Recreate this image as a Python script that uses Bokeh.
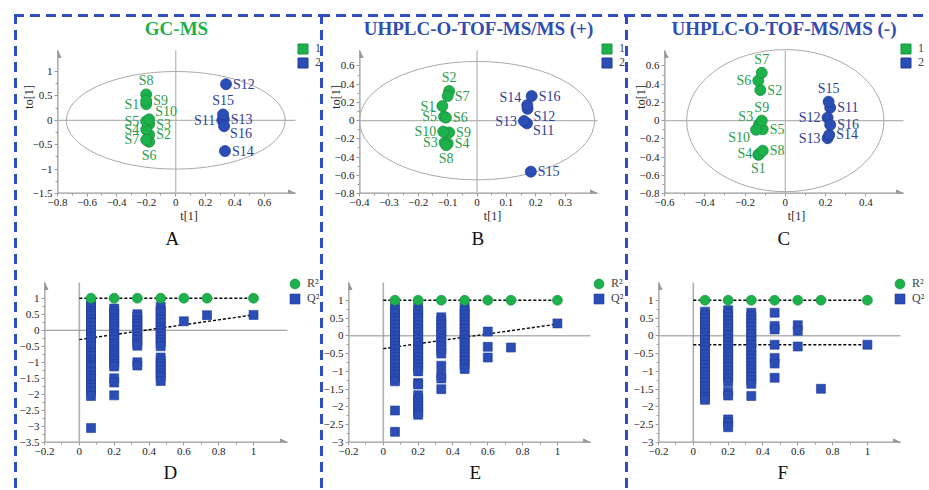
from bokeh.plotting import figure
from bokeh.models import (Arrow, NormalHead, FixedTicker, CustomJSTickFormatter,
                          Legend, LegendItem, Label, Range1d, ColumnDataSource, Title)
from bokeh.layouts import row, column
from bokeh.embed import file_html
from bokeh.resources import INLINE
from bokeh.core.properties import value

# ---------------- data ----------------
samples = ["S1", "S2", "S3", "S4", "S5", "S6", "S7", "S8", "S9", "S10",
           "S11", "S12", "S13", "S14", "S15", "S16"]
groups = [1, 1, 1, 1, 1, 1, 1, 1, 1, 1, 2, 2, 2, 2, 2, 2]

# A: GC-MS OPLS-DA scores
gc_t = [-0.20, -0.18, -0.18, -0.20, -0.20, -0.18, -0.20, -0.20, -0.20, -0.18,
        0.315, 0.34, 0.325, 0.333, 0.32, 0.327]
gc_to = [0.33, -0.30, -0.08, -0.19, -0.02, -0.44, -0.40, 0.53, 0.40, 0.02,
         0.00, 0.74, 0.02, -0.63, 0.12, -0.12]
gc_lab = ["l", "r", "r", "l", "l", "b", "l", "a", "r", "ar",
          "l", "r", "r", "r", "a", "br"]
gc_ellipse = [0.74, 1.0]

# B: UHPLC (+)
pos_t = [-0.118, -0.095, -0.11, -0.10, -0.112, -0.106, -0.10, -0.105, -0.095, -0.115,
         0.17, 0.172, 0.16, 0.171, 0.183, 0.186]
pos_to = [0.16, 0.325, -0.24, -0.25, 0.044, 0.033, 0.27, -0.27, -0.13, -0.12,
          -0.03, 0.13, -0.005, 0.17, -0.56, 0.27]
pos_lab = ["l", "a", "l", "r", "l", "r", "r", "b", "r", "l",
           "br", "br", "l", "al", "r", "r"]
pos_ellipse = [0.40, 0.65]

# C: UHPLC (-)
neg_t = [-0.134, -0.124, -0.13, -0.129, -0.112, -0.134, -0.117, -0.112, -0.117, -0.145,
         0.223, 0.21, 0.21, 0.218, 0.215, 0.223]
neg_to = [-0.375, 0.336, -0.04, -0.365, -0.095, 0.44, 0.525, -0.33, 0.0, -0.10,
          0.142, 0.033, -0.193, -0.157, 0.208, -0.047]
neg_lab = ["b", "r", "al", "l", "r", "l", "a", "r", "a", "bl",
           "r", "l", "l", "r", "a", "r"]
neg_ellipse = [0.49, 0.78]

# permutation tests (x = correlation coefficient)
perm_x = [0.067, 0.2, 0.333, 0.467, 0.6, 0.733, 1.0]
line_x = [0.0, 1.0]

gc_r2 = [1.0, 1.0, 1.0, 1.0, 1.0, 1.0, 1.0]
gc_q2 = [
    [0.83, 0.72, 0.6, 0.52, 0.45, 0.33, 0.25, 0.12, 0.0, -0.1, -0.2, -0.28, -0.4, -0.5,
     -0.62, -0.7, -0.8, -0.92, -1.0, -1.1, -1.15, -1.3, -1.42, -1.5, -1.62, -1.7, -1.8,
     -1.92, -2.05, -3.05],
    [0.68, 0.6, 0.5, 0.38, 0.3, 0.2, 0.1, 0.0, -0.12, -0.2, -0.3, -0.42, -0.5, -0.6,
     -0.7, -0.78, -0.88, -0.95, -1.05, -1.13, -1.5, -1.63, -2.03],
    [0.5, 0.42, 0.3, 0.2, 0.12, 0.0, -0.1, -0.2, -0.3, -0.4, -0.48, -1.0, -1.1],
    [0.73, 0.62, 0.55, 0.42, 0.33, 0.22, 0.1, 0.0, -0.1, -0.2, -0.3, -0.4, -0.5,
     -0.85, -0.95, -1.05, -1.15, -1.25, -1.35, -1.45, -1.58],
    [0.28],
    [0.47],
    [0.48],
]
gc_r2_line = [1.0, 1.0]
gc_q2_line = [-0.29, 0.48]

pos_r2 = [1.0, 1.0, 1.0, 1.0, 1.0, 1.0, 1.0]
pos_q2 = [
    [0.82, 0.72, 0.62, 0.5, 0.42, 0.3, 0.2, 0.1, 0.0, -0.1, -0.2, -0.28, -0.38, -0.5,
     -0.6, -0.7, -0.8, -0.9, -1.0, -1.1, -1.2, -1.28, -2.1, -2.7],
    [0.8, 0.7, 0.6, 0.5, 0.4, 0.3, 0.2, 0.1, 0.0, -0.1, -0.2, -0.3, -0.4, -0.5, -0.6,
     -0.7, -0.8, -0.9, -1.0, -1.33, -1.37, -1.67, -1.77, -1.87, -1.97, -2.07, -2.15, -2.22],
    [0.52, 0.42, 0.32, 0.22, 0.12, 0.02, -0.08, -0.18, -0.3, -0.4, -0.5, -0.84, -1.1,
     -1.2, -1.5],
    [0.8, 0.7, 0.6, 0.5, 0.4, 0.3, 0.2, 0.1, 0.0, -0.1, -0.2, -0.3, -0.4, -0.5, -0.6,
     -0.7, -0.8, -0.93],
    [0.12, -0.31, -0.61],
    [-0.33],
    [0.35],
]
pos_r2_line = [1.0, 1.0]
pos_q2_line = [-0.36, 0.33]

neg_r2 = [1.0, 1.0, 1.0, 1.0, 1.0, 1.0, 1.0]
neg_q2 = [
    [0.68, 0.58, 0.48, 0.38, 0.28, 0.18, 0.08, -0.02, -0.12, -0.22, -0.32, -0.42, -0.52,
     -0.62, -0.72, -0.82, -0.92, -1.02, -1.12, -1.22, -1.32, -1.42, -1.52, -1.62, -1.72,
     -1.8],
    [0.72, 0.62, 0.52, 0.42, 0.32, 0.22, 0.12, 0.02, -0.08, -0.18, -0.28, -0.38, -0.48,
     -0.58, -0.68, -0.78, -0.88, -0.98, -1.08, -1.18, -1.3, -1.58, -1.68, -2.35, -2.45,
     -2.57],
    [0.65, 0.55, 0.45, 0.35, 0.25, 0.15, 0.05, -0.05, -0.15, -0.25, -0.35, -0.45, -0.55,
     -0.65, -0.75, -0.85, -0.95, -1.05, -1.15, -1.25, -1.35, -1.69],
    [0.65, 0.28, 0.18, -0.25, -0.62, -0.78, -1.18],
    [0.3, 0.14, -0.3],
    [-1.49],
    [-0.25],
]
neg_r2_line = [1.0, 1.0]
neg_q2_line = [-0.25, -0.25]

# axis extents (start, arrow tip)
a_xaxis, a_yaxis = (-0.8, 0.81), (-1.5, 1.43)
b_xaxis, b_yaxis = (-0.4, 0.41), (-0.8, 0.77)
c_xaxis, c_yaxis = (-0.6, 0.587), (-0.8, 0.77)
d_xaxis, d_yaxis = (-0.2, 1.195), (-3.5, 1.49)
e_xaxis, e_yaxis = (-0.2, 1.19), (-3.0, 1.5)
f_xaxis, f_yaxis = (-0.2, 1.19), (-3.0, 1.5)

# tick labels
a_xticks = [-0.8, -0.6, -0.4, -0.2, 0, 0.2, 0.4, 0.6]
a_yticks = [-1.5, -1, -0.5, 0, 0.5, 1]
b_xticks = [-0.4, -0.3, -0.2, -0.1, 0, 0.1, 0.2, 0.3]
b_yticks = [-0.8, -0.6, -0.4, -0.2, 0, 0.2, 0.4, 0.6]
c_xticks = [-0.6, -0.4, -0.2, 0, 0.2, 0.4]
c_yticks = [-0.8, -0.6, -0.4, -0.2, 0, 0.2, 0.4, 0.6]
perm_xticks = [-0.2, 0, 0.2, 0.4, 0.6, 0.8, 1]
d_yticks = [-3.5, -3, -2.5, -2, -1.5, -1, -0.5, 0, 0.5, 1]
ef_yticks = [-3, -2.5, -2, -1.5, -1, -0.5, 0, 0.5, 1]

# ---------------- style ----------------
FONT = "Liberation Serif"
GREEN = "#1db14b"
GREEN_EDGE = "#16923c"
GREEN_TXT = "#2b9d49"
BLUE = "#2b4db6"
BLUE_EDGE = "#203b98"
BLUE_TXT = "#2c3e96"
AXIS = "#9a9a9a"
ZERO = "#b5b5b5"
BORDER = "#2f4fc0"
TITLE_BLUE = "#2f4db3"
NAN = float("nan")

FMT = ("const v = Math.round(tick * 1000) / 1000;"
       "return v < 0 ? '\\u2212' + String(Math.abs(v)) : String(v);")

LABEL_POS = {
    "r": (7, 0, "left", "middle"),
    "l": (-7, 0, "right", "middle"),
    "a": (0, -6, "center", "bottom"),
    "b": (0, 6, "center", "top"),
    "ar": (6, 0, "left", "bottom"),
    "br": (6, 0, "left", "top"),
    "al": (-6, 0, "right", "bottom"),
    "bl": (-6, 0, "right", "top"),
}


def minor(ticks):
    return [(a + b) / 2 for a, b in zip(ticks[:-1], ticks[1:])]


def make_base(xa, ya, xt, yt, aw, ah, er, et, left, bottom, ylab_standoff):
    # frame extends beyond the drawn axes (right / top) so that legends and
    # titles drawn inside the frame are not clipped; scale is kept identical.
    xr = (xa[0], xa[0] + (aw + er) / aw * (xa[1] - xa[0]))
    yr = (ya[0], ya[0] + (ah + et) / ah * (ya[1] - ya[0]))
    p = figure(frame_width=aw + er, frame_height=ah + et,
               x_range=Range1d(*xr), y_range=Range1d(*yr),
               min_border_left=left, min_border_right=0, min_border_top=0,
               min_border_bottom=bottom, output_backend="svg", toolbar_location=None)
    p.grid.visible = False
    p.outline_line_color = None
    # transparent canvas: the dashed panel borders are painted behind it
    p.background_fill_color = None
    p.border_fill_color = None
    for ax in (p.xaxis[0], p.yaxis[0]):
        ax.axis_line_color = None
        ax.major_tick_line_color = AXIS
        ax.minor_tick_line_color = AXIS
        ax.major_tick_in = 0
        ax.major_tick_out = 3
        ax.minor_tick_in = 0
        ax.minor_tick_out = 2
        ax.major_label_text_font = FONT
        ax.major_label_text_font_size = "11px"
        ax.major_label_text_color = "#222222"
        ax.major_label_standoff = 2
        ax.axis_label_text_font = FONT
        ax.axis_label_text_font_size = "12px"
        ax.axis_label_text_font_style = "normal"
        ax.axis_label_text_color = "#222222"
        ax.formatter = CustomJSTickFormatter(code=FMT)
    p.xaxis[0].ticker = FixedTicker(ticks=xt, minor_ticks=minor(xt))
    p.yaxis[0].ticker = FixedTicker(ticks=yt, minor_ticks=minor(yt))
    p.xaxis.axis_label_standoff = 0
    p.yaxis.axis_label_standoff = ylab_standoff
    # axis lines with arrows, ending at the arrow tips
    p.line([xa[0], xa[1]], [ya[0], ya[0]], line_color=AXIS, line_width=2)
    p.line([xa[0], xa[0]], [ya[0], ya[1]], line_color=AXIS, line_width=2)
    for xs, ys, xe, ye in ((xa[0], ya[0], xa[1], ya[0]), (xa[0], ya[0], xa[0], ya[1])):
        p.add_layout(Arrow(end=NormalHead(size=7, fill_color=AXIS, line_color=AXIS),
                           x_start=xs, y_start=ys, x_end=xe, y_end=ye,
                           line_color=AXIS, line_width=1))
    return p


def add_letter(p, text, offset, standoff):
    p.add_layout(Title(text=text, align="left", offset=offset, standoff=standoff,
                       text_font=FONT, text_font_size="19px", text_font_style="normal",
                       text_color="#111111"), "below")


def add_legend_item(p, label, renderer, loc, standoff):
    p.add_layout(Legend(items=[LegendItem(label=label, renderers=[renderer])],
                        location=loc, glyph_width=25, glyph_height=25, label_height=25,
                        spacing=0, padding=0, margin=0, label_standoff=standoff,
                        label_text_font=FONT, label_text_font_size="12px",
                        border_line_alpha=0, background_fill_alpha=0))


def score_fig(title, tcolor, t, to, lab, ell, xa, ya, xt, yt, aw, left, er, ylab_standoff,
              leg_x, let, let_off):
    p = make_base(xa, ya, xt, yt, aw, 143, er, 50, left, 64, ylab_standoff)
    p.xaxis.axis_label = "t[1]"
    p.yaxis.axis_label = "to[1]"
    # zero lines
    p.line([xa[0], xa[1]], [0, 0], line_color=ZERO, line_width=1.2)
    p.line([0, 0], [ya[0], ya[1]], line_color=ZERO, line_width=1.2)
    p.ellipse(x=[0], y=[0], width=[2 * ell[0]], height=[2 * ell[1]],
              fill_color=None, line_color="#a9a9a9", line_width=1)
    src = ColumnDataSource(dict(
        t=t, to=to, name=samples,
        fill=[GREEN if g == 1 else BLUE for g in groups],
        edge=[GREEN_EDGE if g == 1 else BLUE_EDGE for g in groups],
        tcol=[GREEN_TXT if g == 1 else BLUE_TXT for g in groups],
        xo=[LABEL_POS[c][0] for c in lab], yo=[LABEL_POS[c][1] for c in lab],
        al=[LABEL_POS[c][2] for c in lab], bl=[LABEL_POS[c][3] for c in lab],
    ))
    p.scatter("t", "to", source=src, marker="circle", size=11,
              fill_color="fill", line_color="edge", line_width=0.8)
    p.text("t", "to", text="name", source=src, x_offset="xo", y_offset="yo",
           text_align="al", text_baseline="bl", text_color="tcol",
           text_font=value(FONT), text_font_size=value("14px"))
    # legend-only renderers (no visible point)
    r1 = p.scatter(x=[NAN], y=[NAN], marker="square", fill_color=GREEN, line_color=GREEN_EDGE)
    r2 = p.scatter(x=[NAN], y=[NAN], marker="square", fill_color=BLUE, line_color=BLUE_EDGE)
    add_legend_item(p, "1", r1, (leg_x, 132), -5)
    add_legend_item(p, "2", r2, (leg_x, 118), -5)
    # panel title drawn inside the (extended) frame
    p.add_layout(Label(x=(xa[0] + xa[1]) / 2, y=p.y_range.end, y_offset=-28, text=title,
                       text_align="center", text_baseline="middle", text_font=FONT,
                       text_font_size="19px", text_font_style="bold", text_color=tcolor))
    add_letter(p, let, let_off, 0)
    return p


def perm_fig(r2, q2, r2_line, q2_line, xa, ya, yt, aw, left, er, leg_x, let, let_off):
    p = make_base(xa, ya, perm_xticks, yt, aw, 160, er, 25, left, 47, 0)
    p.line([0, 0], [ya[0], ya[1]], line_color="#b0b0b0", line_width=1.6)
    p.line([xa[0], xa[1]], [0, 0], line_color="#8c8c8c", line_width=1)
    p.line(line_x, r2_line, line_color="black", line_width=1.4, line_dash="3 2")
    p.line(line_x, q2_line, line_color="black", line_width=1.4, line_dash="3 2")
    qx, qy = [], []
    for xv, vals in zip(perm_x, q2):
        qx += [xv] * len(vals)
        qy += vals
    rq = p.scatter(qx, qy, marker="square", size=9, fill_color=BLUE,
                   line_color=BLUE_EDGE, line_width=0.6)
    rr = p.scatter(perm_x, r2, marker="circle", size=10, fill_color=GREEN,
                   line_color=GREEN_EDGE, line_width=0.6)
    add_legend_item(p, "R\u00b2", rr, (leg_x, 146), -7)
    add_legend_item(p, "Q\u00b2", rq, (leg_x, 131), -7)
    add_letter(p, let, let_off, 5)
    return p


# page origin is (0, 0): panel columns span x 0-320, 320-625, 625-928
pa = score_fig("GC-MS", GREEN, gc_t, gc_to, gc_lab, gc_ellipse, a_xaxis, a_yaxis,
               a_xticks, a_yticks, 238, 57, 25, -6, 233, "A", 108)
pb = score_fig("UHPLC-O-TOF-MS/MS (+)", TITLE_BLUE, pos_t, pos_to, pos_lab, pos_ellipse,
               b_xaxis, b_yaxis, b_xticks, b_yticks, 238, 39, 28, -11, 235, "B", 112)
pc = score_fig("UHPLC-O-TOF-MS/MS (-)", TITLE_BLUE, neg_t, neg_to, neg_lab, neg_ellipse,
               c_xaxis, c_yaxis, c_xticks, c_yticks, 239, 39, 25, -11, 229, "C", 113)

pd = perm_fig(gc_r2, gc_q2, gc_r2_line, gc_q2_line, d_xaxis, d_yaxis, d_yticks,
              243, 44, 33, 238, "D", 119)
pe = perm_fig(pos_r2, pos_q2, pos_r2_line, pos_q2_line, e_xaxis, e_yaxis, ef_yticks,
              242, 28, 35, 238, "E", 121)
pf = perm_fig(neg_r2, neg_q2, neg_r2_line, neg_q2_line, f_xaxis, f_yaxis, ef_yticks,
              242, 33, 28, 229, "F", 119)


def dashed_box(left_px, top_px):
    dash_v = f"repeating-linear-gradient(to bottom, {BORDER} 0px, {BORDER} 10px, transparent 10px, transparent 16px)"
    dash_h = f"repeating-linear-gradient(to right, {BORDER} 0px, {BORDER} 10px, transparent 10px, transparent 16px)"
    return {
        "background-color": "white",
        "background-image": f"{dash_v}, {dash_h}",
        "background-position": f"{left_px}px {top_px}px, {left_px}px {top_px}px",
        "background-size": "3px 100%, 100% 3px",
        "background-repeat": "no-repeat",
    }


colA = column(row(pa), row(pd), styles=dashed_box(14, 14))
colB = column(row(pb), row(pe), styles=dashed_box(0, 14))
colC = column(row(pc), row(pf), styles=dashed_box(0, 14))
layout = row(colA, colB, colC)

open("out.html", "w").write(file_html(layout, INLINE))
